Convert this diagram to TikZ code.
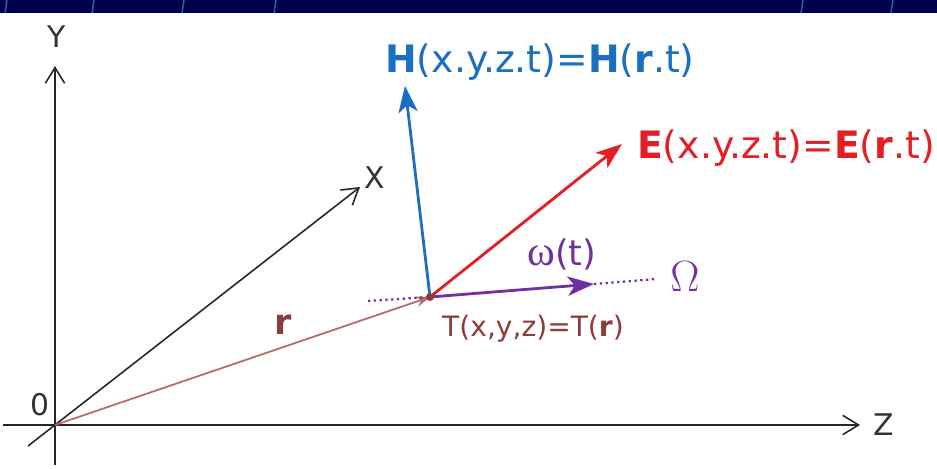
\documentclass[tikz,border=0pt]{standalone}
\usepackage{fontspec}
\setmainfont{DejaVu Sans}
\newfontfamily\symbfont{Liberation Serif}
\usepackage{tikz}
\usetikzlibrary{arrows.meta,calc,positioning}
\definecolor{barnavy}{HTML}{00004E}
\definecolor{slashblue}{HTML}{3060B0}
\definecolor{hblue}{HTML}{1A6FC0}
\definecolor{ered}{HTML}{E31E24}
\definecolor{rbrown}{HTML}{B86A6A}
\definecolor{tbrown}{HTML}{8E3B3B}
\definecolor{wpurple}{HTML}{7030A0}
\tikzset{
    axis/.style={
        draw=black!85,
        line width=0.9pt,
        -{Straight Barb[length=9pt,width=11pt,line width=0.9pt]}
    },
    axislabel/.style={
        font=\fontsize{17}{19}\selectfont,
        text=black!80,
        inner sep=1pt
    },
    fieldarrow/.style={
        line width=1.6pt,
        -{Stealth[length=15pt,width=11pt,inset=4pt]}
    },
    fieldlabel/.style={
        font=\fontsize{21.5}{24}\selectfont,
        inner sep=1pt
    },
    dotline/.style={
        draw=wpurple,
        line width=1.3pt,
        dash pattern=on 1.3pt off 2pt
    },
    topbar/.style={
        fill=barnavy
    },
    slash/.style={
        draw=slashblue,
        line width=0.8pt
    }
}

\begin{document}
\begin{tikzpicture}[x=0.02cm, y=0.02cm]
    % Frame and title bar
    \useasboundingbox (0,0) rectangle (937,468);
    \fill[topbar] (0,455) rectangle (937,468);
    \foreach \sx in {5,92,182,274,801,891}
        \draw[slash] (\sx,455) -- ++(2,13);

    % Points
    \coordinate (O)       at (55,43);
    \coordinate (Ybottom) at (55,3);
    \coordinate (Ytop)    at (55,402);
    \coordinate (Zleft)   at (3,43);
    \coordinate (Zright)  at (860,43);
    \coordinate (Xbottom) at (28,22);
    \coordinate (Xtop)    at (360,281);
    \coordinate (T)       at (430,171);
    \coordinate (Htip)    at (405,382);
    \coordinate (Etip)    at (622,324);
    \coordinate (Wtip)    at (594,184);
    \coordinate (dotL)    at (368,167);
    \coordinate (dotR)    at (656,189);

    % Axes
    \draw[axis] (Ybottom) -- (Ytop);
    \draw[axis] (Zleft) -- (Zright);
    \draw[axis] (Xbottom) -- (Xtop);
    \node[axislabel] (Ylabel) at (57,431) {Y};
    \node[axislabel] (Xlabel) at (375,290) {X};
    \node[axislabel] (Zlabel) at (884,43) {Z};
    \node[axislabel] (Olabel) at (40,63) {0};

    % Position vector r
    \draw[draw=rbrown, line width=1pt,
          -{Stealth[length=8pt,width=6pt]}] (O) -- (T);
    \node[fieldlabel, text=tbrown, font=\fontsize{20}{22}\selectfont] (rlabel) at (283,143) {\textbf{r}};

    % Direction Omega
    \draw[dotline] (dotL) -- (T);
    \draw[dotline] (Wtip) -- (dotR);
    \draw[fieldarrow, draw=wpurple, fill=wpurple] (T) -- (Wtip);
    \node[fieldlabel, text=wpurple, font=\fontsize{20}{22}\selectfont] (wlabel) at (562,214)
        {{\symbfont\fontsize{24}{26}\selectfont ω}(t)};
    \node[fieldlabel, text=wpurple, font=\fontsize{25}{27}\selectfont] (Wlabel) at (685,191) {$\Omega$};

    % Fields H and E
    \draw[fieldarrow, draw=hblue] (T) -- (Htip);
    \draw[fieldarrow, draw=ered] (T) -- (Etip);
    \fill[tbrown] (T) circle (4);
    \node[fieldlabel, text=hblue] (Hlabel) at (540,406)
        {\textbf{H}(x.y.z.t)=\textbf{H}(\textbf{r}.t)};
    \node[fieldlabel, text=ered] (Elabel) at (786,320)
        {\textbf{E}(x.y.z.t)=\textbf{E}(\textbf{r}.t)};
    \node[text=tbrown, font=\fontsize{16}{18}\selectfont, inner sep=1pt] (Tlabel) at (533,139)
        {T(x,y,z)=T(\textbf{r})};
\end{tikzpicture}
\end{document}
